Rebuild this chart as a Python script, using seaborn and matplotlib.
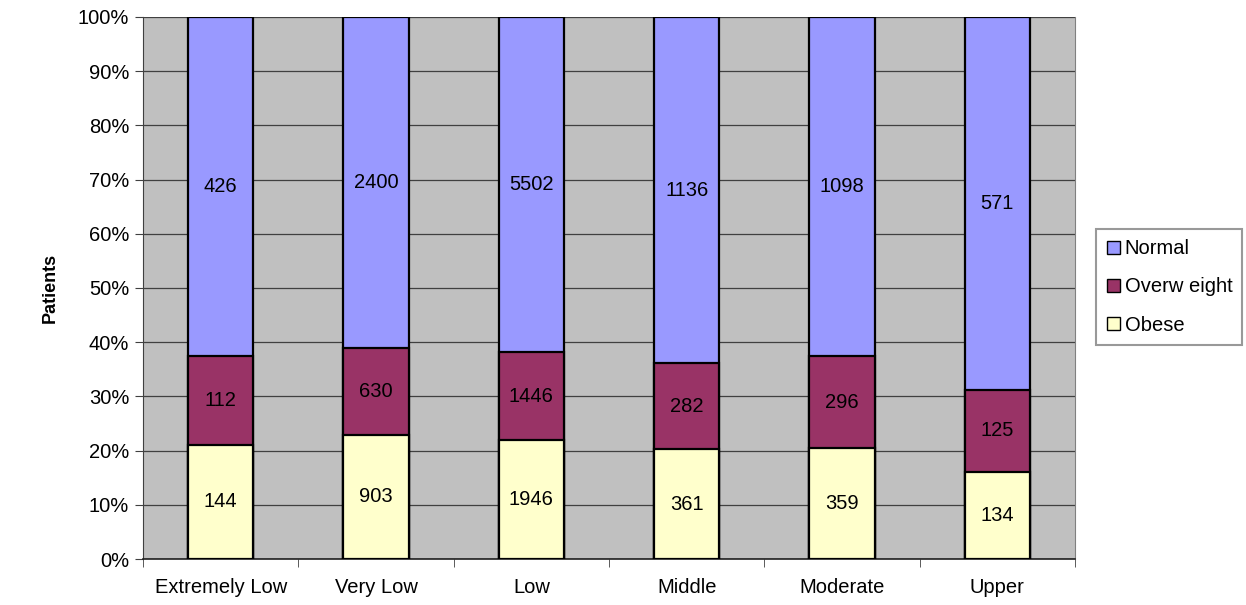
import seaborn as sns
import matplotlib.pyplot as plt
import matplotlib.patches as mpatches
import pandas as pd

categories = ["Extremely Low", "Very Low", "Low", "Middle", "Moderate", "Upper"]
obese = [144, 903, 1946, 361, 359, 134]
overweight = [112, 630, 1446, 282, 296, 125]
normal = [426, 2400, 5502, 1136, 1098, 571]

colors = {"Normal": "#9999FF", "Overw eight": "#993366", "Obese": "#FFFFCC"}

df = pd.DataFrame({"category": categories, "Obese": obese,
                   "Overw eight": overweight, "Normal": normal})
total = df["Obese"] + df["Overw eight"] + df["Normal"]
df["c1"] = df["Obese"] / total * 100
df["c2"] = (df["Obese"] + df["Overw eight"]) / total * 100
df["c3"] = 100.0

plt.rcParams["font.family"] = ["Liberation Sans", "DejaVu Sans"]
fs = 14.5

fig = plt.figure(figsize=(12.46, 6.05), dpi=100)
ax = fig.add_axes([0.1148, 0.076, 0.748, 0.896])
ax.set_facecolor("#C0C0C0")

# stacked by overlaying cumulative bars, tallest first
for col, name in [("c3", "Normal"), ("c2", "Overw eight"), ("c1", "Obese")]:
    sns.barplot(data=df, x="category", y=col, order=categories, color=colors[name],
                saturation=1, width=0.42, edgecolor="black", linewidth=1.6,
                ax=ax, zorder=3)

# segment labels
for i in range(len(categories)):
    segs = [(0, df["c1"][i], obese[i]),
            (df["c1"][i], df["c2"][i], overweight[i]),
            (df["c2"][i], df["c3"][i], normal[i])]
    for lo, hi, v in segs:
        ax.text(i, (lo + hi) / 2, str(v), ha="center", va="center",
                fontsize=fs, color="black", zorder=4)

ax.set_xlim(-0.5, 5.5)
ax.set_ylim(0, 100)
ax.set_yticks(range(0, 101, 10))
ax.set_yticklabels([f"{v}%" for v in range(0, 101, 10)], fontsize=fs)
ax.yaxis.grid(True, color="#404040", linewidth=0.9, zorder=0)
ax.set_axisbelow(True)

ax.set_xticks(range(len(categories)))
ax.set_xticklabels(categories, fontsize=fs)
ax.set_xticks([i - 0.5 for i in range(len(categories) + 1)], minor=True)
ax.tick_params(axis="x", which="major", length=0, pad=14)
ax.tick_params(axis="x", which="minor", length=6, direction="out", color="#404040")
ax.tick_params(axis="y", length=6, direction="out", color="#404040", pad=4)

ax.set_xlabel("")
ax.set_ylabel("Patients", fontsize=13, fontweight="bold", labelpad=14)

ax.spines["top"].set_visible(False)
ax.spines["right"].set_color("#808080")
ax.spines["left"].set_color("#404040")
ax.spines["bottom"].set_color("#202020")
ax.spines["bottom"].set_linewidth(1.2)

handles = [mpatches.Patch(facecolor=colors[n], edgecolor="black", label=n)
           for n in ["Normal", "Overw eight", "Obese"]]
leg = fig.legend(handles=handles, loc="upper left", bbox_to_anchor=(0.880, 0.621),
                 fontsize=fs, frameon=True, fancybox=False, edgecolor="#808080",
                 handlelength=0.65, handleheight=0.65, handletextpad=0.25,
                 labelspacing=0.95, borderpad=0.5, borderaxespad=0)
leg.get_frame().set_linewidth(1.5)

fig.savefig("out.png", dpi=100)
